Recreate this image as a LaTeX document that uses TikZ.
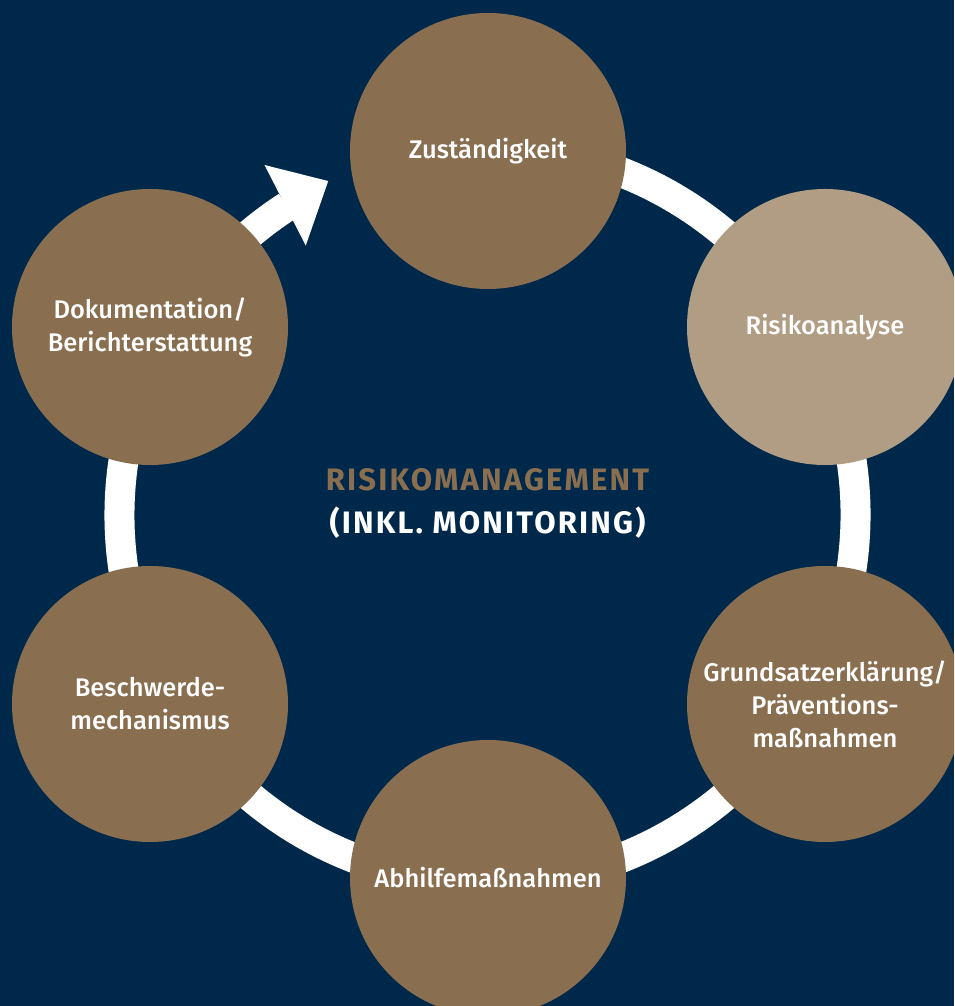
\documentclass[tikz,border=0pt]{standalone}
\usepackage{fontspec}
\setmainfont{Fira Sans}[UprightFont={* Medium},BoldFont={* Bold}]
\usepackage{tikz}
\usetikzlibrary{arrows,shapes,calc}
\definecolor{navy}{RGB}{0,40,74}
\definecolor{umber}{RGB}{137,111,80}
\definecolor{sand}{RGB}{177,157,132}
\tikzstyle{phase}=[circle,fill=umber,minimum size=276pt,inner sep=0pt,text=white,align=center,font=\fontsize{25.5}{33}\selectfont]
\tikzstyle{light phase} = [phase, fill=sand]
\tikzstyle{ring} = [draw=white,line width=30pt]

\begin{document}
\begin{tikzpicture}[x=1pt,y=1pt]
    \fill[navy] (0,0) rectangle (954,1006);
    \useasboundingbox (0,0) rectangle (954,1006);
    \clip (0,0) rectangle (954,1006);
    \coordinate (mid) at (487.5,491);

    % First we draw the ring with its arrow
    \path[ring] (mid) ++(123:368) arc[start angle=123,end angle=450,radius=368];
    \fill[white] ($(mid)+(122.5:415)$) -- ($(mid)+(115.5:370)$) -- ($(mid)+(124:325)$) -- cycle;

    % Then the phases on top of it
    \foreach \pos/\name/\txt in {{(488,855)/zust/{Zuständigkeit}}, {(150,302)/beschw/{Beschwerde-\\mechanismus}}, {(825,302)/grund/{Grundsatzerklärung/\\Präventions-\\maßnahmen}}, {(488,128)/abhilfe/{Abhilfemaßnahmen}}, {(150,679)/doku/{Dokumentation/\\Berichterstattung}}}
        \node[phase] (\name) at \pos {\txt};
    \node[light phase] (risiko) at (825,679) {Risikoanalyse};

    \node[font=\bfseries\fontsize{31}{43}\selectfont\addfontfeatures{LetterSpace=7},align=center] (title) at ($(mid)+(0,12)$)
        {\textcolor{umber}{RISIKOMANAGEMENT}\\\textcolor{white}{(INKL. MONITORING)}};
\end{tikzpicture}
\end{document}
